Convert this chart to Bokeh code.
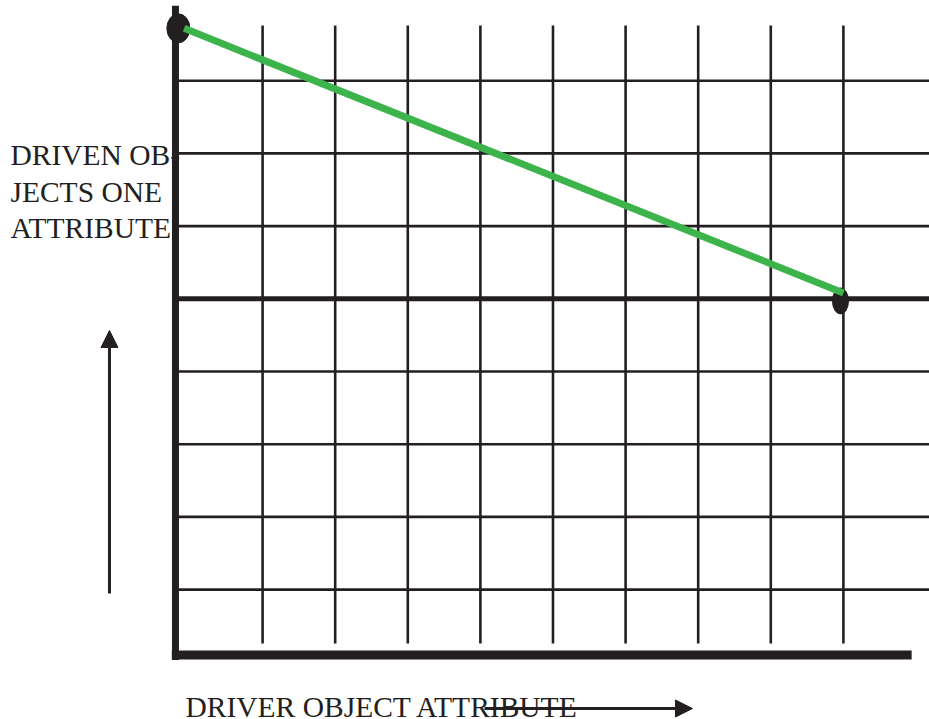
from bokeh.plotting import figure
from bokeh.models import Range1d, Arrow, NormalHead, ColumnDataSource
from bokeh.core.properties import value
from bokeh.embed import file_html
from bokeh.resources import INLINE

# ---- data (grid units: one cell = 1) ----
vgrid_x = [1.2, 2.2, 3.2, 4.2, 5.2, 6.2, 7.2, 8.2, 9.2]
vgrid_y0 = 0.16
vgrid_y1 = 8.66
hgrid_y = [0.9, 1.9, 2.9, 3.9, 5.9, 6.9, 7.9]
hthick_y = [4.9]
hgrid_x0 = 0.0
hgrid_x1 = 10.5

line_x = [0.12, 9.2]
line_y = [8.62, 4.98]
dot_x = [0.04, 9.16]
dot_y = [8.62, 4.87]
dot_w = [23, 16]
dot_h = [29, 26]

axis_left_x = 0.0
axis_left_y = [-0.07, 8.93]
axis_bottom_y = 0.0
axis_bottom_x = [-0.05, 10.14]

ylabel_lines = ["DRIVEN OB-", "JECTS ONE", "ATTRIBUTE"]
ylabel_x = [-2.273, -2.273, -2.273]
ylabel_y = [6.871, 6.362, 5.880]
xlabel = ["DRIVER OBJECT ATTRIBUTE"]
xlabel_x = [0.138]
xlabel_y = [-0.715]

varrow = dict(x=-0.909, y0=0.846, y1=4.464)
harrow = dict(y=-0.736, x0=4.256, x1=7.121)

INK = "#231f20"
GREEN = "#3cb44b"

p = figure(width=929, height=719,
           x_range=Range1d(-2.410, 10.386), y_range=Range1d(-0.887, 9.003),
           output_backend="svg", toolbar_location=None, min_border=0,
           x_axis_location=None, y_axis_location=None)
p.grid.visible = False
p.outline_line_color = None
p.background_fill_color = "white"

# vertical grid lines
p.segment(x0=vgrid_x, y0=[vgrid_y0] * len(vgrid_x), x1=vgrid_x, y1=[vgrid_y1] * len(vgrid_x),
          line_color=INK, line_width=2.6)
# horizontal grid lines
p.segment(x0=[hgrid_x0] * len(hgrid_y), y0=hgrid_y, x1=[hgrid_x1] * len(hgrid_y), y1=hgrid_y,
          line_color=INK, line_width=2.6)
p.segment(x0=[hgrid_x0], y0=hthick_y, x1=[hgrid_x1], y1=hthick_y,
          line_color=INK, line_width=5)

# labels (drawn before the axis so the hyphen tucks under it)
src_y = ColumnDataSource(dict(x=ylabel_x, y=ylabel_y, t=ylabel_lines))
p.text(x="x", y="y", text="t", source=src_y, text_font=value("Liberation Serif"),
       text_font_size="29.5px", text_color=INK, text_baseline="alphabetic", text_align="left")
src_x = ColumnDataSource(dict(x=xlabel_x, y=xlabel_y, t=xlabel))
p.text(x="x", y="y", text="t", source=src_x, text_font=value("Liberation Serif"),
       text_font_size="29.5px", text_color=INK, text_baseline="alphabetic", text_align="left")

# axes
p.segment(x0=[axis_left_x], y0=[axis_left_y[0]], x1=[axis_left_x], y1=[axis_left_y[1]],
          line_color=INK, line_width=7)
p.segment(x0=[axis_bottom_x[0]], y0=[axis_bottom_y], x1=[axis_bottom_x[1]], y1=[axis_bottom_y],
          line_color=INK, line_width=9)

# end dots
p.ellipse(x=dot_x, y=dot_y, width=dot_w, height=dot_h,
          width_units="screen", height_units="screen",
          fill_color=INK, line_color=INK)

# green line
p.line(line_x, line_y, line_color=GREEN, line_width=7)

# arrows
p.add_layout(Arrow(end=NormalHead(size=17, fill_color=INK, line_color=INK, line_width=1),
                   x_start=varrow["x"], y_start=varrow["y0"],
                   x_end=varrow["x"], y_end=varrow["y1"],
                   line_color=INK, line_width=3))
p.add_layout(Arrow(end=NormalHead(size=17, fill_color=INK, line_color=INK, line_width=1),
                   x_start=harrow["x0"], y_start=harrow["y"],
                   x_end=harrow["x1"], y_end=harrow["y"],
                   line_color=INK, line_width=3))

open("out.html", "w").write(file_html(p, INLINE))
